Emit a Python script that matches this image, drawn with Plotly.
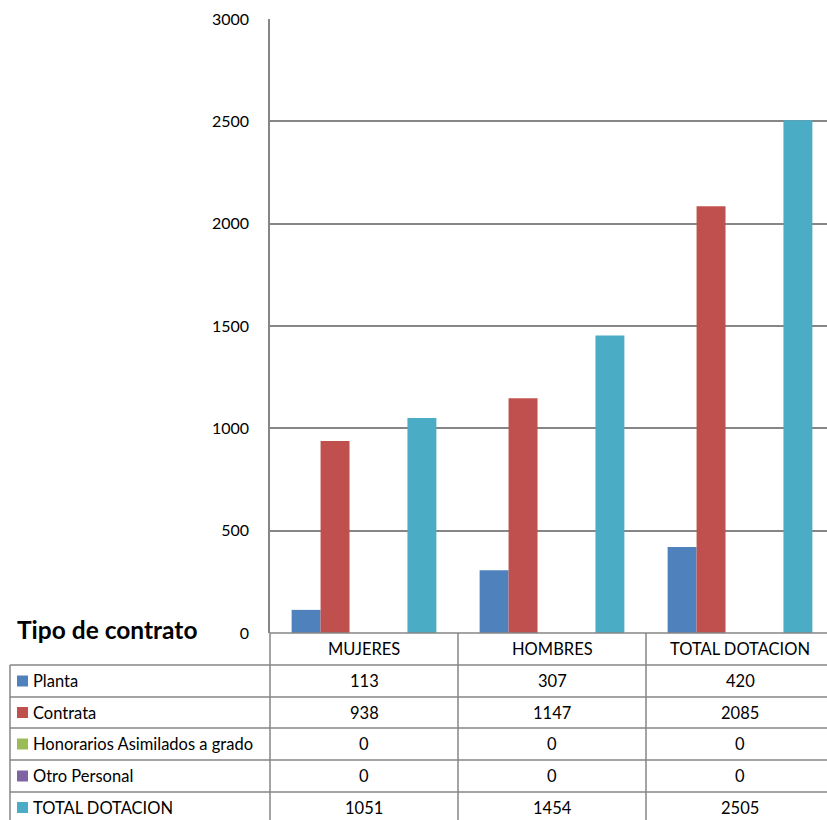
import plotly.graph_objects as go

categories = ["MUJERES", "HOMBRES", "TOTAL DOTACION"]
series_names = ["Planta", "Contrata", "Honorarios Asimilados a grado", "Otro Personal", "TOTAL DOTACION"]
planta = [113, 307, 420]
contrata = [938, 1147, 2085]
honorarios = [0, 0, 0]
otro = [0, 0, 0]
total = [1051, 1454, 2505]
series_values = [planta, contrata, honorarios, otro, total]
colors = ["#4F81BD", "#C0504D", "#9BBB59", "#8064A2", "#4BACC6"]
y_ticks = [0, 500, 1000, 1500, 2000, 2500, 3000]
table_title = "Tipo de contrato"

W, H = 827, 820
L, R, T, B = 270, 0, 19, 187
PW = W - L - R
PH = H - T - B
FONT = "Lato"
GRID = "#868686"
TXT = 16.5


def px_x(p):
    return (p - L) / PW


def px_y(p):
    return (H - B - p) / PH


fig = go.Figure()
for name, vals, col in zip(series_names, series_values, colors):
    fig.add_trace(go.Bar(x=categories, y=vals, name=name, marker=dict(color=col, line=dict(width=0)),
                         showlegend=False))

shapes = []
annotations = []

row_lines = [633, 665, 697, 728, 760, 792, 823]
for i, yl in enumerate(row_lines):
    x0 = 10 if i >= 1 else L
    shapes.append(dict(type="line", xref="paper", yref="paper", x0=px_x(x0), x1=1.0,
                       y0=px_y(yl), y1=px_y(yl), line=dict(color=GRID, width=1.5)))
shapes.append(dict(type="line", xref="paper", yref="paper", x0=px_x(10), x1=px_x(10),
                   y0=px_y(665), y1=px_y(823), line=dict(color=GRID, width=1.5)))
shapes.append(dict(type="line", xref="paper", yref="paper", x0=0, x1=0,
                   y0=px_y(633), y1=px_y(823), line=dict(color=GRID, width=1.5)))
for k in range(len(categories) - 1):
    shapes.append(dict(type="line", xref="x", yref="paper", x0=k + 0.5, x1=k + 0.5,
                       y0=px_y(633), y1=px_y(823), line=dict(color=GRID, width=1.5)))

hdr_c = (row_lines[0] + row_lines[1]) / 2
for k, c in enumerate(categories):
    annotations.append(dict(text=c, xref="x", yref="paper", x=k, y=px_y(hdr_c), showarrow=False,
                            xanchor="center", yanchor="middle", font=dict(family=FONT, size=TXT, color="#000")))

for r, (name, vals, col) in enumerate(zip(series_names, series_values, colors)):
    yc = (row_lines[r + 1] + row_lines[r + 2]) / 2
    shapes.append(dict(type="rect", xref="paper", yref="paper", x0=px_x(17), x1=px_x(28),
                       y0=px_y(yc - 5.5), y1=px_y(yc + 5.5), fillcolor=col, line=dict(width=0)))
    annotations.append(dict(text=name, xref="paper", yref="paper", x=px_x(31), y=px_y(yc), showarrow=False,
                            xanchor="left", yanchor="middle", font=dict(family=FONT, size=TXT, color="#000")))
    for k, v in enumerate(vals):
        annotations.append(dict(text=str(v), xref="x", yref="paper", x=k, y=px_y(yc), showarrow=False,
                                xanchor="center", yanchor="middle", font=dict(family=FONT, size=TXT, color="#000")))

annotations.append(dict(text="<b>" + table_title + "</b>", xref="paper", yref="paper", x=px_x(15), y=px_y(629),
                        showarrow=False, xanchor="left", yanchor="middle",
                        font=dict(family=FONT, size=24.5, color="#000")))

fig.update_layout(
    width=W, height=H,
    margin=dict(l=L, r=R, t=T, b=B, pad=0),
    paper_bgcolor="white", plot_bgcolor="white",
    barmode="group", bargap=0.23, bargroupgap=0,
    showlegend=False,
    xaxis=dict(range=[-0.5, -0.5 + PW / 188.0], showticklabels=False, ticks="", showgrid=False,
               showline=False, zeroline=False, fixedrange=True),
    yaxis=dict(range=[0, 3000], tickvals=y_ticks, ticktext=[str(t) for t in y_ticks],
               showgrid=True, gridcolor=GRID, gridwidth=1.5, zeroline=False,
               showline=True, linecolor=GRID, linewidth=1.5, ticks="", ticklabelstandoff=16,
               tickfont=dict(family=FONT, size=16, color="#000"), fixedrange=True),
    shapes=shapes,
    annotations=annotations,
    font=dict(family=FONT),
)

fig.write_html("out.html", config={"displayModeBar": False},
               post_script="document.body.style.margin='0';document.body.style.overflow='hidden';")
